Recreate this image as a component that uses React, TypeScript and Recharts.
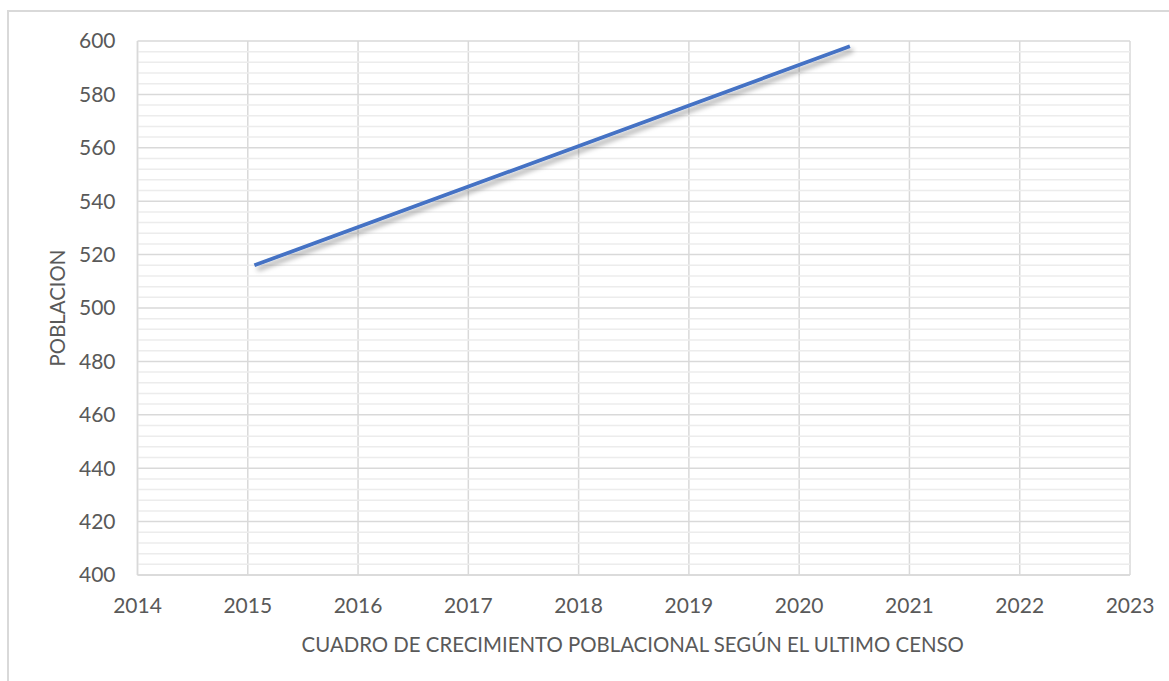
import React from 'react';
import { LineChart, Line, XAxis, YAxis, CartesianGrid, ReferenceLine, Label } from 'recharts';

// Population trend endpoints (year, inhabitants)
const years = [2015.06, 2020.46];
const population = [516, 598];

const yearTicks = [2014, 2015, 2016, 2017, 2018, 2019, 2020, 2021, 2022, 2023];
const populationTicks = [400, 420, 440, 460, 480, 500, 520, 540, 560, 580, 600];
const minorTicks = [
  404, 408, 412, 416, 424, 428, 432, 436, 444, 448, 452, 456, 464, 468, 472, 476,
  484, 488, 492, 496, 504, 508, 512, 516, 524, 528, 532, 536, 544, 548, 552, 556,
  564, 568, 572, 576, 584, 588, 592, 596,
];

const xTitle = 'CUADRO DE CRECIMIENTO POBLACIONAL SEGÚN EL ULTIMO CENSO';
const yTitle = 'POBLACION';

const data = years.map((year, i) => ({ year, value: population[i] }));

const FONT = 'Lato, "Open Sans", sans-serif';
const TEXT = '#595959';
const GRID = '#d9d9d9';

export default function App() {
  return (
    <div style={{ position: 'absolute', left: 0, top: 0, width: 1169, height: 681, background: '#fff' }}>
      <div
        style={{
          position: 'absolute',
          left: 7,
          top: 10,
          right: 0,
          bottom: 0,
          borderTop: `2px solid ${GRID}`,
          borderLeft: `2px solid ${GRID}`,
        }}
      />
      <LineChart
        width={1169}
        height={681}
        data={data}
        margin={{ top: 41, right: 39, left: 0, bottom: 0 }}
        style={{ position: 'absolute', left: 0, top: 0, fontFamily: FONT }}
      >
        <defs>
          <filter id="lineShadow" x="-10%" y="-50%" width="120%" height="200%">
            <feDropShadow dx="3" dy="4" stdDeviation="2.5" floodColor="#000" floodOpacity="0.35" />
          </filter>
        </defs>
        {minorTicks.map((v) => (
          <ReferenceLine key={v} y={v} stroke="#ececec" strokeWidth={1.5} ifOverflow="hidden" />
        ))}
        <CartesianGrid stroke={GRID} strokeWidth={1.5} />
        <XAxis
          dataKey="year"
          type="number"
          domain={[2014, 2023]}
          ticks={yearTicks}
          interval={0}
          height={106}
          tickSize={0}
          tickMargin={23}
          axisLine={{ stroke: GRID, strokeWidth: 1.5 }}
          tickLine={false}
          tick={{ fill: TEXT, fontSize: 21, fontFamily: FONT }}
        >
          <Label
            content={({ viewBox }: any) => (
              <text
                x={viewBox.x + viewBox.width / 2 - 1}
                y={viewBox.y + 77}
                textAnchor="middle"
                fill={TEXT}
                fontSize={20.4}
                fontFamily={FONT}
              >
                {xTitle}
              </text>
            )}
          />
        </XAxis>
        <YAxis
          type="number"
          domain={[400, 600]}
          ticks={populationTicks}
          interval={0}
          width={137.5}
          tickSize={0}
          tickMargin={22}
          axisLine={{ stroke: GRID, strokeWidth: 1.5 }}
          tickLine={false}
          tick={{ fill: TEXT, fontSize: 21, fontFamily: FONT }}
        >
          <Label
            content={({ viewBox }: any) => {
              const cx = viewBox.x + 57;
              const cy = viewBox.y + viewBox.height / 2;
              return (
                <text
                  x={cx}
                  y={cy}
                  transform={`rotate(-90 ${cx} ${cy})`}
                  textAnchor="middle"
                  dominantBaseline="central"
                  fill={TEXT}
                  fontSize={20.4}
                  fontFamily={FONT}
                >
                  {yTitle}
                </text>
              );
            }}
          />
        </YAxis>
        <Line
          type="linear"
          dataKey="value"
          stroke="#4472c4"
          strokeWidth={3.8}
          dot={false}
          activeDot={false}
          isAnimationActive={false}
          filter="url(#lineShadow)"
        />
      </LineChart>
    </div>
  );
}
